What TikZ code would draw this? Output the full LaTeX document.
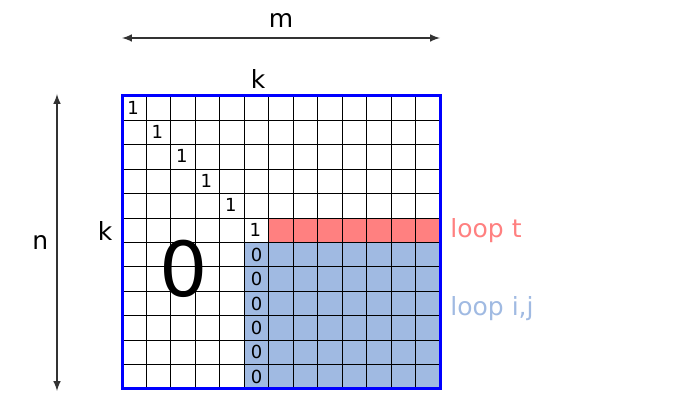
\documentclass[tikz,border=0pt]{standalone}
\usepackage{fontspec}
\setmainfont{DejaVu Sans}
\definecolor{loopred}{RGB}{255,128,128}
\definecolor{loopblue}{RGB}{160,186,226}
\definecolor{frameblue}{RGB}{0,0,255}
\begin{document}
\begin{tikzpicture}[x=0.5pt,y=-0.5pt]
\tikzstyle{cell} = [font=\fontsize{9}{10}\selectfont, inner sep=0pt];
\tikzstyle{lbl} = [font=\fontsize{12.5}{14}\selectfont, inner sep=0pt];
\tikzstyle{dim} = [<->, >=latex, line width=0.7pt, draw=black!80];
\useasboundingbox (0,0) rectangle (676,405);
\def\cw{24.46}
\def\ch{24.42}
% coloured blocks
\fill[loopred] (122+6*\cw,96+5*\ch) rectangle (440,96+6*\ch);
\fill[loopblue] (122+5*\cw,96+6*\ch) rectangle (440,389);
% grid
\foreach \i in {1,...,12}
  \draw[line width=0.45pt] (122+\i*\cw,96) -- (122+\i*\cw,389);
\foreach \j in {1,...,11}
  \draw[line width=0.45pt] (122,96+\j*\ch) -- (440,96+\j*\ch);
\draw[frameblue, line width=1.5pt] (122,96) rectangle (440,389);
% diagonal
\foreach \i in {0,...,5}
  \node[cell] (one\i) at (122+\i*\cw+0.45*\cw, 96+\i*\ch+0.47*\ch) {1};
\foreach \j in {6,...,11}
  \node[cell] (zero\j) at (122+5.5*\cw, 96+\j*\ch+0.5*\ch) {0};
\node[font=\fontsize{38}{40}\selectfont, inner sep=0pt] (big0) at (184,269) {0};
% labels
\node[lbl] (ktop) at (258,79) {k};
\node[lbl] (kleft) at (105,231) {k};
\node[lbl, text=loopred, anchor=west] (loopt) at (450,231) {loop t};
\node[lbl, text=loopblue, anchor=west] (loopij) at (450,309) {loop i,j};
% dimensions
\coordinate (mL) at (122,38);
\coordinate (mR) at (440,38);
\coordinate (nT) at (57,94);
\coordinate (nB) at (57,391);
\draw[dim] (mL) -- node[lbl, above=5pt] (mlab) {m} (mR);
\draw[dim] (nT) -- node[lbl, left=4pt] (nlab) {n} (nB);
\end{tikzpicture}
\end{document}
